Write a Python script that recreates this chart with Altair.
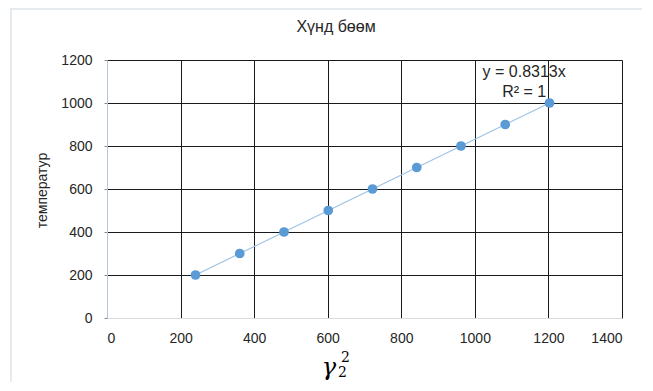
import altair as alt
import pandas as pd

# data
gamma_sq = [240.6, 360.9, 481.2, 601.5, 721.8, 842.1, 962.3, 1082.6, 1202.9]
temperature = [200, 300, 400, 500, 600, 700, 800, 900, 1000]
eq_lines = ["y = 0.8313x", "R² = 1"]
eq_x = [1134, 1134]
eq_y = [1146, 1052]
chart_title = "Хүнд бөөм"

W, H = 515, 258

df = pd.DataFrame({"x": gamma_sq, "y": temperature})
eq = pd.DataFrame({"t": eq_lines, "x": eq_x, "y": eq_y})
one = pd.DataFrame({"a": [0]})

xs = alt.Scale(domain=[0, 1400], nice=False)
ys = alt.Scale(domain=[0, 1200], nice=False)

font = "Liberation Sans"

xaxis = alt.Axis(values=list(range(0, 1401, 200)), format="d", grid=True, gridColor="#1a1a1a",
                 gridWidth=1, domainColor="#d9d9d9", ticks=False, labelFontSize=14,
                 labelColor="#262626", labelFont=font, labelPadding=13, title=None)
yaxis = alt.Axis(values=list(range(0, 1201, 200)), format="d", grid=True, gridColor="#1a1a1a",
                 gridWidth=1, domainColor="#b4c7dc", ticks=True, tickSize=3, tickColor="#888888",
                 labelFontSize=14, labelColor="#262626", labelFont=font, labelPadding=12,
                 title="температур", titleFont=font, titleFontSize=14, titleFontWeight="normal",
                 titleColor="#262626", titleAngle=-90, titleX=-65, titleY=130,
                 titleAlign="center", titleBaseline="middle")

line = alt.Chart(df).mark_line(color="#9dc3e6", strokeWidth=1.2).encode(
    x=alt.X("x:Q", scale=xs, axis=xaxis),
    y=alt.Y("y:Q", scale=ys, axis=yaxis),
)
pts = alt.Chart(df).mark_circle(color="#5b9bd5", size=95, opacity=1).encode(
    x=alt.X("x:Q", scale=xs),
    y=alt.Y("y:Q", scale=ys),
)
eqt = alt.Chart(eq).mark_text(font=font, fontSize=16, color="#262626", align="center",
                              baseline="middle").encode(
    x=alt.X("x:Q", scale=xs),
    y=alt.Y("y:Q", scale=ys),
    text="t:N",
)

# chart title
ttl = alt.Chart(one).mark_text(text=chart_title, font=font, fontSize=16, color="#262626",
                               align="center", baseline="middle").encode(
    x=alt.value(229), y=alt.value(-33))

# x-axis title: gamma with stacked sub/superscript 2
g = alt.Chart(one).mark_text(text="γ", font="DejaVu Serif", fontStyle="italic", fontSize=24,
                             color="#000000", align="center", baseline="middle").encode(
    x=alt.value(222), y=alt.value(308))
sub = alt.Chart(one).mark_text(text="2", font="DejaVu Serif", fontSize=14, color="#000000",
                               align="left", baseline="middle").encode(
    x=alt.value(231), y=alt.value(313))
sup = alt.Chart(one).mark_text(text="2", font="DejaVu Serif", fontSize=14, color="#000000",
                               align="left", baseline="middle").encode(
    x=alt.value(234), y=alt.value(298))

# light frame of the chart area
frame_v = alt.Chart(one).mark_rule(color="#dde3ea", strokeWidth=1.5).encode(
    x=alt.value(-96), y=alt.value(-52), y2=alt.value(330))
frame_h = alt.Chart(one).mark_rule(color="#dde3ea", strokeWidth=1.5).encode(
    x=alt.value(-96), x2=alt.value(560), y=alt.value(-51))

chart = alt.layer(frame_v, frame_h, line, pts, eqt, ttl, g, sub, sup).properties(
    width=W, height=H,
    autosize=alt.AutoSizeParams(type="none"),
    padding={"left": 99, "top": 52, "right": 20, "bottom": 64},
).configure_view(stroke=None)

chart.save("out.html", embed_options={"renderer": "svg", "actions": False})
